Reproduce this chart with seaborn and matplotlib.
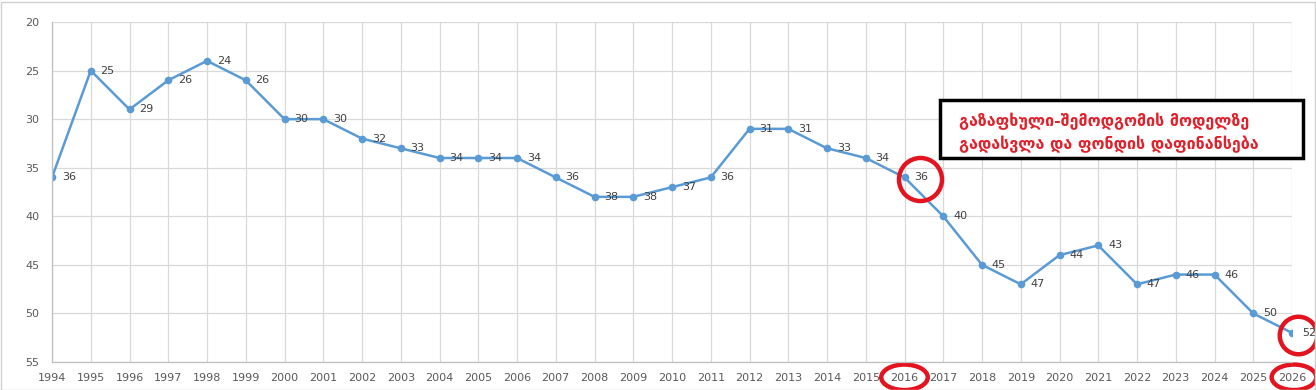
import pandas as pd
import matplotlib.pyplot as plt
import seaborn as sns
from matplotlib.patches import Ellipse, Rectangle
from matplotlib.transforms import blended_transform_factory, offset_copy

# data
years = list(range(1994, 2027))
values = [36, 25, 29, 26, 24, 26, 30, 30, 32, 33, 34, 34, 34, 36, 38, 38, 37, 36,
          31, 31, 33, 34, 36, 40, 45, 47, 44, 43, 47, 46, 46, 50, 52]
note_lines = ["გაზაფხული-შემოდგომის მოდელზე", "გადასვლა და ფონდის დაფინანსება"]
marked_years = [2016, 2026]

df = pd.DataFrame({"year": years, "value": values})

sns.set_style("white")
plt.rcParams['font.family'] = ['DejaVu Sans']

W, H = 1316, 390
fig = plt.figure(figsize=(W / 100, H / 100), dpi=100)
ax = fig.add_axes([52 / W, 1 - 362 / H, (1292 - 52) / W, 340 / H])

line_col = "#5B9BD5"
sns.lineplot(data=df, x="year", y="value", ax=ax, color=line_col, linewidth=1.8,
             marker="o", markersize=5.5, markeredgewidth=0)

for x, y in zip(years, values):
    ax.annotate(str(y), (x, y), xytext=(7, 0), textcoords="offset points",
                va="center", ha="left", fontsize=8, color="#404040")

ax.set_xlim(1994, 2026)
ax.set_ylim(55, 20)
ax.set_xticks(years)
ax.set_yticks(range(20, 56, 5))
ax.grid(True, color="#D9D9D9", linewidth=0.9)
ax.set_xlabel("")
ax.set_ylabel("")
ax.tick_params(axis="both", length=0, labelsize=8, labelcolor="#595959")
ax.tick_params(axis="x", pad=8)
ax.tick_params(axis="y", pad=9)
for s in ["top", "right"]:
    ax.spines[s].set_visible(False)
for s in ["left", "bottom"]:
    ax.spines[s].set_color("#BFBFBF")
    ax.spines[s].set_linewidth(0.9)

# red circles round the highlighted points (shifted right to take in the label)
red = "#E3141F"
for yr, dx, size in zip(marked_years, [15, 6], [31, 27]):
    v = values[years.index(yr)]
    tr = offset_copy(ax.transData, fig=fig, x=dx, y=-2, units="dots")
    ax.plot([yr], [v], marker="o", markersize=size, markerfacecolor="none",
            markeredgecolor=red, markeredgewidth=3.2, clip_on=False, transform=tr)

# and round their tick labels
trans = blended_transform_factory(ax.transData, ax.transAxes)
ax.add_patch(Ellipse((2016, -0.045), 1.2, 0.075, transform=trans, fill=False,
                     edgecolor=red, linewidth=3.2, clip_on=False))
ax.add_patch(Ellipse((2026.05, -0.045), 1.15, 0.075, transform=trans, fill=False,
                     edgecolor=red, linewidth=3.2, clip_on=False))

# annotation box
fig.patches.append(Rectangle((940 / W, 1 - 158 / H), 363 / W, 58 / H,
                             transform=fig.transFigure, facecolor="white",
                             edgecolor="black", linewidth=2.5))
fig.text(959 / W, 1 - 121 / H, note_lines[0], color="#E0202A", fontsize=11.5,
         fontweight="bold", va="center", ha="left")
fig.text(959 / W, 1 - 144 / H, note_lines[1], color="#E0202A", fontsize=11.5,
         fontweight="bold", va="center", ha="left")

# outer border
fig.patches.append(Rectangle((0.5 / W, 0.5 / H), (W - 2) / W, (H - 2) / H,
                             transform=fig.transFigure, fill=False,
                             edgecolor="#D0D0D0", linewidth=1))

fig.savefig("out.png", dpi=100)
